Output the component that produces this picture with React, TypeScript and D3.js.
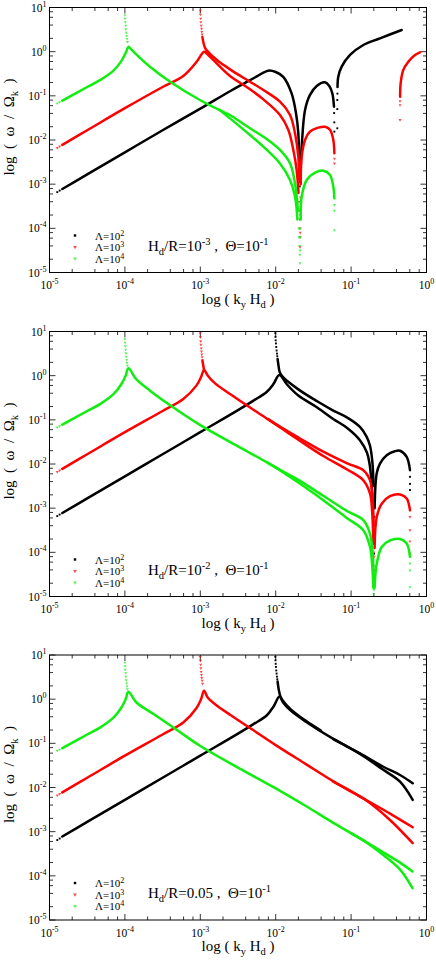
import React, { useEffect, useRef } from 'react';
import * as d3 from 'd3';

type Pt = [number, number]; // [log10(k_y H_d), log10(omega / Omega_k)]

// axis decades (tick labels are 10^n)
const xDecades = [-5, -4, -3, -2, -1, 0];
const yDecades = [-5, -4, -3, -2, -1, 0, 1];
const minorSteps = [2, 4, 6, 8];

const lambdaExps = ['2', '3', '4'];

// ---------- panel A : Hd/R = 1e-3 ----------
const aBlackLines: Pt[][] = [
  [[-4.83, -3.11], [-4.5, -2.78], [-4, -2.28], [-3.5, -1.78], [-3, -1.29], [-2.6, -0.89], [-2.4, -0.7], [-2.25, -0.56], [-2.1, -0.43], [-2.0, -0.46], [-1.9, -0.57], [-1.79, -0.94], [-1.73, -1.4], [-1.7, -1.85], [-1.688, -2.5]],
  [[-1.668, -2.6], [-1.655, -2.15], [-1.611, -1.32], [-1.545, -0.98], [-1.456, -0.777], [-1.346, -0.694], [-1.289, -0.777], [-1.249, -0.943], [-1.227, -1.246]],
  [[-1.18, -0.8], [-1.17, -0.566], [-1.125, -0.34], [-1.014, -0.075], [-0.838, 0.151], [-0.617, 0.302], [-0.329, 0.49]],
];
const aBlackDots: Pt[] = [
  [-4.897, -3.18], [-4.865, -3.145], [-1.684, -2.75], [-1.682, -2.9], [-1.68, -3.05], [-1.677, -2.95], [-1.673, -2.8],
  [-1.225, -1.39], [-1.223, -1.6], [-1.222, -1.81], [-1.183, -1.735], [-1.183, -1.3], [-1.183, -1.094], [-1.181, -0.95],
];
const aRedLines: Pt[][] = [
  [[-4.83, -2.11], [-4.5, -1.78], [-4, -1.28], [-3.5, -0.8], [-3.226, -0.55], [-3.048, -0.227], [-2.95, 0.0], [-2.915, -0.04], [-2.78, -0.27], [-2.606, -0.55], [-2.341, -0.85], [-2.164, -1.08], [-1.943, -1.434], [-1.832, -1.773], [-1.766, -2.226], [-1.722, -2.679], [-1.698, -3.2]],
  [[-2.972, 0.33], [-2.955, 0.18], [-2.935, 0.08], [-2.915, 0.03], [-2.78, -0.19], [-2.606, -0.4], [-2.341, -0.68], [-2.164, -0.868], [-1.943, -1.133], [-1.81, -1.434], [-1.744, -1.848], [-1.7, -2.378], [-1.688, -2.9]],
  [[-1.668, -3.0], [-1.655, -2.378], [-1.611, -2.0], [-1.545, -1.81], [-1.435, -1.72], [-1.346, -1.7], [-1.28, -1.77], [-1.236, -2.0], [-1.222, -2.3]],
  [[-0.35, -1.02], [-0.343, -0.72], [-0.308, -0.415], [-0.241, -0.227], [-0.152, -0.075], [-0.086, -0.014]],
];
const aRedDots: Pt[] = [
  [-4.897, -2.18], [-4.865, -2.145],
  [-3.0, 0.93], [-2.998, 0.84], [-2.995, 0.75], [-2.992, 0.67], [-2.988, 0.59], [-2.984, 0.52], [-2.98, 0.45], [-2.976, 0.39],
  [-1.69, -3.4], [-1.685, -3.6], [-1.682, -3.8], [-1.68, -4.0], [-1.678, -4.2], [-1.677, -4.42], [-1.675, -4.1], [-1.673, -3.7], [-1.67, -3.3],
  [-1.221, -2.42], [-1.221, -2.53], [-0.351, -1.547], [-0.351, -1.21], [-0.351, -1.12],
];
const aGreenLines: Pt[][] = [
  [[-4.83, -1.11], [-4.5, -0.8], [-4.33, -0.645], [-4.152, -0.43], [-4.05, -0.22], [-3.99, -0.03], [-3.953, 0.11], [-3.932, 0.08], [-3.85, -0.06], [-3.667, -0.34], [-3.4, -0.68], [-3.0, -1.1], [-2.65, -1.4], [-2.606, -1.434], [-2.341, -1.735], [-2.164, -1.925], [-1.943, -2.226], [-1.81, -2.53], [-1.744, -2.98], [-1.705, -3.6]],
  [[-2.75, -1.31], [-2.606, -1.51], [-2.341, -1.887], [-2.164, -2.15], [-1.943, -2.53], [-1.81, -2.905], [-1.744, -3.28], [-1.712, -3.8]],
  [[-1.668, -3.8], [-1.655, -3.28], [-1.589, -2.905], [-1.478, -2.74], [-1.368, -2.695], [-1.28, -2.79], [-1.236, -3.06], [-1.222, -3.32]],
];
const aGreenDots: Pt[] = [
  [-4.897, -1.17], [-4.865, -1.14],
  [-4.0, 0.83], [-3.998, 0.75], [-3.995, 0.67], [-3.99, 0.59], [-3.986, 0.51], [-3.982, 0.43], [-3.977, 0.36], [-3.972, 0.29], [-3.966, 0.22],
  [-1.695, -4.0], [-1.69, -4.2], [-1.685, -4.4], [-1.68, -4.6], [-1.678, -4.79], [-1.676, -4.5], [-1.673, -4.2], [-1.67, -4.0],
  [-1.221, -3.47], [-1.221, -3.6], [-1.221, -4.04],
];

// ---------- panel B : Hd/R = 1e-2 ----------
const bBlackLines: Pt[][] = [
  [[-4.83, -3.11], [-4.5, -2.78], [-4, -2.28], [-3.5, -1.78], [-3, -1.28], [-2.5, -0.78], [-2.3, -0.57], [-2.12, -0.37], [-2.03, -0.19], [-1.952, 0.016], [-1.85, -0.2], [-1.7, -0.45], [-1.45, -0.72], [-1.237, -0.98], [-1.04, -1.2], [-0.883, -1.46], [-0.79, -1.74], [-0.755, -2.0], [-0.73, -2.4], [-0.712, -3.0]],
  [[-1.975, 0.38], [-1.962, 0.22], [-1.945, 0.07], [-1.9, -0.04], [-1.7, -0.31], [-1.45, -0.58], [-1.237, -0.79], [-1.04, -0.96], [-0.883, -1.16], [-0.795, -1.38], [-0.75, -1.58], [-0.718, -1.95], [-0.702, -2.5]],
  [[-0.688, -3.0], [-0.66, -2.21], [-0.617, -1.99], [-0.528, -1.8], [-0.42, -1.71], [-0.351, -1.7], [-0.263, -1.84], [-0.219, -2.14]],
];
const bBlackDots: Pt[] = [
  [-4.897, -3.18], [-4.865, -3.145],
  [-2.005, 0.96], [-2.003, 0.88], [-2.0, 0.8], [-1.997, 0.73], [-1.993, 0.65], [-1.988, 0.57], [-1.983, 0.5], [-1.979, 0.44],
  [-0.705, -3.2], [-0.7, -3.5], [-0.697, -3.8], [-0.696, -4.03], [-0.694, -3.7], [-0.692, -3.4], [-0.69, -3.2],
  [-0.219, -2.29], [-0.219, -2.45], [-0.219, -2.59],
];
const bRedLines: Pt[][] = [
  [[-4.83, -2.11], [-4.5, -1.78], [-4, -1.28], [-3.5, -0.8], [-3.226, -0.53], [-3.05, -0.22], [-2.99, -0.03], [-2.95, 0.13], [-2.9, 0.0], [-2.8, -0.18], [-2.6, -0.42], [-2.35, -0.71], [-2.1, -0.99], [-1.9, -1.22], [-1.7, -1.45], [-1.369, -1.82], [-1.058, -2.12], [-0.838, -2.37], [-0.749, -2.67], [-0.72, -3.1], [-0.705, -3.8]],
  [[-2.1, -0.985], [-1.9, -1.2], [-1.7, -1.4], [-1.369, -1.72], [-1.058, -1.98], [-0.838, -2.14], [-0.749, -2.37], [-0.715, -2.8], [-0.7, -3.4]],
  [[-2.972, 0.35], [-2.962, 0.24], [-2.95, 0.13]],
  [[-0.688, -3.9], [-0.66, -3.2], [-0.594, -2.9], [-0.484, -2.73], [-0.351, -2.69], [-0.263, -2.78], [-0.219, -3.05]],
];
const bRedDots: Pt[] = [
  [-4.897, -2.18], [-4.865, -2.145],
  [-3.0, 0.96], [-2.998, 0.87], [-2.995, 0.78], [-2.992, 0.7], [-2.988, 0.62], [-2.984, 0.55], [-2.98, 0.48], [-2.976, 0.42],
  [-0.7, -4.0], [-0.698, -4.3], [-0.697, -4.6], [-0.696, -4.71], [-0.694, -4.4], [-0.692, -4.1],
  [-0.219, -3.2], [-0.219, -3.5], [-0.219, -3.75], [-0.219, -4.03],
];
const bGreenLines: Pt[][] = [
  [[-4.83, -1.11], [-4.5, -0.8], [-4.33, -0.645], [-4.152, -0.42], [-4.05, -0.2], [-3.99, 0.0], [-3.953, 0.168], [-3.85, -0.08], [-3.667, -0.34], [-3.4, -0.67], [-3.0, -1.12], [-2.5, -1.6], [-2.1, -1.98], [-1.9, -2.19], [-1.7, -2.42], [-1.369, -2.82], [-1.058, -3.22], [-0.838, -3.5], [-0.749, -3.88], [-0.72, -4.3], [-0.705, -4.8]],
  [[-2.1, -1.975], [-1.9, -2.17], [-1.7, -2.36], [-1.369, -2.72], [-1.058, -3.06], [-0.838, -3.27], [-0.749, -3.58], [-0.715, -4.0], [-0.7, -4.6]],
  [[-0.688, -4.8], [-0.66, -4.26], [-0.594, -3.88], [-0.484, -3.73], [-0.351, -3.7], [-0.263, -3.8], [-0.219, -4.1]],
];
const bGreenDots: Pt[] = [
  [-4.897, -1.17], [-4.865, -1.14],
  [-4.0, 0.83], [-3.998, 0.75], [-3.995, 0.67], [-3.99, 0.59], [-3.986, 0.51], [-3.982, 0.43], [-3.977, 0.36], [-3.972, 0.29], [-3.966, 0.23],
  [-0.697, -4.95], [-0.696, -4.85],
  [-0.219, -4.25], [-0.219, -4.41], [-0.219, -4.79],
];

// ---------- panel C : Hd/R = 0.05 ----------
const cBlackLines: Pt[][] = [
  [[-4.83, -3.11], [-4.5, -2.78], [-4, -2.28], [-3.5, -1.78], [-3, -1.28], [-2.5, -0.78], [-2.3, -0.57], [-2.12, -0.37], [-2.03, -0.17], [-1.95, 0.06], [-1.9, -0.08], [-1.8, -0.26], [-1.6, -0.51], [-1.236, -0.9], [-0.882, -1.226], [-0.573, -1.53], [-0.351, -1.717], [-0.183, -1.905]],
  [[-1.236, -0.905], [-0.882, -1.24], [-0.573, -1.6], [-0.351, -1.868], [-0.183, -2.28]],
  [[-1.975, 0.4], [-1.96, 0.22], [-1.935, 0.05], [-1.88, -0.09], [-1.8, -0.23], [-1.6, -0.49], [-1.4, -0.71]],
];
const cBlackDots: Pt[] = [
  [-4.897, -3.19], [-4.865, -3.155],
  [-2.005, 0.96], [-2.003, 0.88], [-2.0, 0.8], [-1.997, 0.73], [-1.993, 0.65], [-1.988, 0.58], [-1.983, 0.51], [-1.979, 0.45],
];
const cRedLines: Pt[][] = [
  [[-4.83, -2.11], [-4.5, -1.78], [-4, -1.28], [-3.5, -0.8], [-3.226, -0.53], [-3.05, -0.2], [-2.99, 0.0], [-2.95, 0.19], [-2.9, 0.03], [-2.8, -0.12], [-2.6, -0.36], [-2.3, -0.7], [-2.0, -1.04], [-1.6, -1.47], [-1.236, -1.86], [-0.793, -2.29], [-0.484, -2.59], [-0.183, -2.9]],
  [[-1.236, -1.865], [-0.793, -2.3], [-0.484, -2.735], [-0.183, -3.26]],
];
const cRedDots: Pt[] = [
  [-4.897, -2.18], [-4.865, -2.145],
  [-3.0, 0.96], [-2.998, 0.87], [-2.995, 0.78], [-2.992, 0.7], [-2.988, 0.62], [-2.984, 0.55], [-2.98, 0.48], [-2.976, 0.42], [-2.97, 0.35],
];
const cGreenLines: Pt[][] = [
  [[-4.83, -1.11], [-4.5, -0.8], [-4.33, -0.645], [-4.152, -0.42], [-4.05, -0.2], [-3.99, 0.0], [-3.953, 0.17], [-3.85, -0.07], [-3.6, -0.36], [-3.3, -0.71], [-3.0, -1.06], [-2.5, -1.55], [-2.0, -2.02], [-1.6, -2.42], [-1.236, -2.8], [-0.793, -3.24], [-0.573, -3.47], [-0.35, -3.7], [-0.186, -3.9]],
  [[-1.0, -3.04], [-0.793, -3.25], [-0.573, -3.53], [-0.35, -3.86], [-0.186, -4.28]],
];
const cGreenDots: Pt[] = [
  [-4.897, -1.17], [-4.865, -1.14],
  [-4.0, 0.83], [-3.998, 0.75], [-3.995, 0.67], [-3.99, 0.59], [-3.986, 0.51], [-3.982, 0.43], [-3.977, 0.36], [-3.972, 0.29], [-3.966, 0.23],
];

// rich-text segments: [text, baseline shift] (positive = subscript, negative = superscript)
const noteA: [string, number][] = [['H', 0], ['d', 4], ['/R=10', 0], ['-3', -6], [' ,  Θ=10', 0], ['-1', -6]];
const noteB: [string, number][] = [['H', 0], ['d', 4], ['/R=10', 0], ['-2', -6], [' ,  Θ=10', 0], ['-1', -6]];
const noteC: [string, number][] = [['H', 0], ['d', 4], ['/R=0.05 ,  Θ=10', 0], ['-1', -6]];
const xTitle: [string, number][] = [['log ( k', 0], ['y', 4], [' H', 0], ['d', 4], [' )', 0]];
const yTitle: [string, number][] = [['log  (  ω  /  Ω', 0], ['k', 4], ['  )', 0]];

const W = 436;
const H = 960;
const FONT = "'Liberation Serif', 'Times New Roman', 'DejaVu Serif', serif";
const COLORS = ['#000000', '#ff0000', '#10ee10'];

const App = () => {
  const svgRef = useRef<SVGSVGElement>(null);

  useEffect(() => {
    const svg = d3.select(svgRef.current);
    svg.selectAll('*').remove();

    const left = 49.5, right = 426.5, ph = 265;
    const panels = [
      { top: 7.5, note: noteA, series: [[aBlackLines, aBlackDots], [aRedLines, aRedDots], [aGreenLines, aGreenDots]] },
      { top: 331.5, note: noteB, series: [[bBlackLines, bBlackDots], [bRedLines, bRedDots], [bGreenLines, bGreenDots]] },
      { top: 655, note: noteC, series: [[cBlackLines, cBlackDots], [cRedLines, cRedDots], [cGreenLines, cGreenDots]] },
    ];

    const rich = (text: any, segs: [string, number][], small: number) => {
      let cur = 0;
      segs.forEach(([s, shift]) => {
        const ts = text.append('tspan').attr('dy', shift - cur).text(s);
        if (shift !== 0) ts.attr('font-size', small);
        cur = shift;
      });
    };

    const marker = (g: any, i: number, cx: number, cy: number, big = false) => {
      if (i === 0) {
        const s = big ? 2.4 : 1.9;
        g.append('rect').attr('x', cx - s / 2).attr('y', cy - s / 2).attr('width', s).attr('height', s).attr('fill', COLORS[0]);
      } else {
        g.append('path')
          .attr('d', d3.symbol(d3.symbolTriangle, big ? 6 : 4)())
          .attr('transform', `translate(${cx},${cy}) rotate(180)`)
          .attr('fill', COLORS[i])
          .attr('fill-opacity', 0.7);
      }
    };

    panels.forEach((p, pi) => {
      const bottom = p.top + ph;
      const x = d3.scaleLog().domain([1e-5, 1]).range([left, right]);
      const y = d3.scaleLog().domain([1e-5, 10]).range([bottom, p.top]);
      const px = (d: Pt) => x(Math.pow(10, d[0]));
      const py = (d: Pt) => y(Math.pow(10, d[1]));

      const g = svg.append('g').style('font-family', FONT);
      const clipId = `clip-${pi}`;
      svg.append('clipPath').attr('id', clipId)
        .append('rect').attr('x', left).attr('y', p.top).attr('width', right - left).attr('height', ph);

      // ticks (inward, mirrored)
      const ticks = g.append('g').attr('stroke', '#000').attr('stroke-width', 0.8);
      xDecades.forEach(e => {
        const xv = x(Math.pow(10, e));
        ticks.append('line').attr('x1', xv).attr('x2', xv).attr('y1', bottom).attr('y2', bottom - 6);
        ticks.append('line').attr('x1', xv).attr('x2', xv).attr('y1', p.top).attr('y2', p.top + 6);
        if (e < 0) {
          minorSteps.forEach(m => {
            const xm = x(m * Math.pow(10, e));
            ticks.append('line').attr('x1', xm).attr('x2', xm).attr('y1', bottom).attr('y2', bottom - 3.5);
            ticks.append('line').attr('x1', xm).attr('x2', xm).attr('y1', p.top).attr('y2', p.top + 3.5);
          });
        }
      });
      yDecades.forEach(e => {
        const yv = y(Math.pow(10, e));
        ticks.append('line').attr('x1', left).attr('x2', left + 6).attr('y1', yv).attr('y2', yv);
        ticks.append('line').attr('x1', right).attr('x2', right - 6).attr('y1', yv).attr('y2', yv);
        if (e < 1) {
          minorSteps.forEach(m => {
            const ym = y(m * Math.pow(10, e));
            ticks.append('line').attr('x1', left).attr('x2', left + 3.5).attr('y1', ym).attr('y2', ym);
            ticks.append('line').attr('x1', right).attr('x2', right - 3.5).attr('y1', ym).attr('y2', ym);
          });
        }
      });

      // tick labels
      xDecades.forEach(e => {
        const t = g.append('text').attr('x', x(Math.pow(10, e))).attr('y', bottom + 16.5)
          .attr('text-anchor', 'middle').style('font-size', '11.5px');
        rich(t, [['10', 0], [String(e), -5]], 8);
      });
      yDecades.forEach(e => {
        const t = g.append('text').attr('x', left - 3).attr('y', y(Math.pow(10, e)) + 4)
          .attr('text-anchor', 'end').style('font-size', '11.5px');
        rich(t, [['10', 0], [String(e), -5]], 8);
      });

      // axis titles
      const xt = g.append('text').attr('x', (left + right) / 2).attr('y', bottom + 31)
        .attr('text-anchor', 'middle').style('font-size', '15px').style('white-space', 'pre');
      rich(xt, xTitle, 10.5);
      const yt = g.append('text')
        .attr('transform', `translate(13.5,${p.top + ph / 2 - 13}) rotate(-90)`)
        .attr('text-anchor', 'middle').style('font-size', '15px').style('white-space', 'pre');
      rich(yt, yTitle, 10.5);

      // curves
      const line = d3.line<Pt>().x(px).y(py).curve(d3.curveCatmullRom.alpha(0.5));
      const plot = g.append('g').attr('clip-path', `url(#${clipId})`);
      p.series.forEach(([lines, dots], si) => {
        (lines as Pt[][]).forEach(l => {
          plot.append('path').attr('d', line(l))
            .attr('fill', 'none').attr('stroke', COLORS[si])
            .attr('stroke-width', 2.5).attr('stroke-linejoin', 'round').attr('stroke-linecap', 'round');
        });
        (dots as Pt[]).forEach(d => marker(plot, si, px(d), py(d)));
      });

      // frame
      g.append('rect').attr('x', left).attr('y', p.top).attr('width', right - left).attr('height', ph)
        .attr('fill', 'none').attr('stroke', '#000').attr('stroke-width', 1);

      // legend
      const rows = [bottom - 33, bottom - 21.5, bottom - 10];
      lambdaExps.forEach((ex, i) => {
        marker(g, i, 75, rows[i] - 4, true);
        const t = g.append('text').attr('x', 95).attr('y', rows[i]).style('font-size', '11px');
        rich(t, [['Λ=10', 0], [ex, -4]], 8);
      });

      // annotation
      const nt = g.append('text').attr('x', 148).attr('y', bottom - 22)
        .style('font-size', '15px').style('white-space', 'pre');
      rich(nt, p.note, 10.5);
    });
  }, []);

  return (
    <div style={{ position: 'absolute', left: 0, top: 0, width: W, height: H, background: '#fff' }}>
      <svg ref={svgRef} width={W} height={H} style={{ display: 'block' }} />
    </div>
  );
};

export default App;
